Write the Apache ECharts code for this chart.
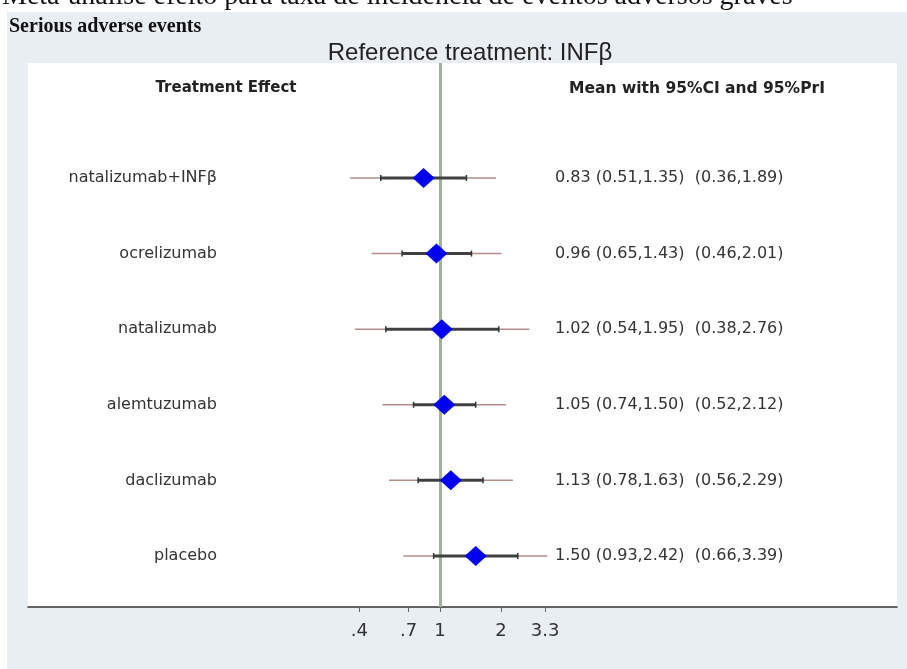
<!DOCTYPE html>
<html>
  <head>
    <meta charset="utf-8" />
    <title>Serious adverse events</title>
    <script src="https://cdn.jsdelivr.net/npm/echarts@6/dist/echarts.min.js"></script>
  </head>
  <body style="margin:0">
    <div id="main" style="width:907px;height:669px"></div>
    <script type="text/javascript">
      // rate ratios vs INFβ (rows top to bottom)
      var treatments = ['natalizumab+INFβ', 'ocrelizumab', 'natalizumab', 'alemtuzumab', 'daclizumab', 'placebo'];
      var mean    = [0.83, 0.96, 1.02, 1.05, 1.13, 1.50];
      var ciLow   = [0.51, 0.65, 0.54, 0.74, 0.78, 0.93];
      var ciHigh  = [1.35, 1.43, 1.95, 1.50, 1.63, 2.42];
      var priLow  = [0.36, 0.46, 0.38, 0.52, 0.56, 0.66];
      var priHigh = [1.89, 2.01, 2.76, 2.12, 2.29, 3.39];
      var tickValues = [0.4, 0.7, 1, 2, 3.3];
      var tickLabels = ['.4', '.7', '1', '2', '3.3'];

      var ln = Math.log;
      var rows = treatments.map(function (t, i) { return i; });
      var tickLn = tickValues.map(ln);

      var intervalData = rows.map(function (i) {
        return [ln(priLow[i]), ln(priHigh[i]), ln(ciLow[i]), ln(ciHigh[i]), i];
      });
      var meanData = rows.map(function (i) { return [ln(mean[i]), i]; });

      function rowText(i) {
        return mean[i].toFixed(2) + ' (' + ciLow[i].toFixed(2) + ',' + ciHigh[i].toFixed(2) + ')  (' +
          priLow[i].toFixed(2) + ',' + priHigh[i].toFixed(2) + ')';
      }

      var myChart = echarts.init(document.getElementById('main'));
      var sans = 'DejaVu Sans';
      var yRange = { min: -1.521, max: 5.675 };

      var option = {
        backgroundColor: '#e8eef2',
        animation: false,
        graphic: [
          { type: 'rect', shape: { x: 0, y: 0, width: 907, height: 12 }, style: { fill: '#ffffff' }, z: -1 },
          { type: 'rect', shape: { x: 0, y: 0, width: 7, height: 669 }, style: { fill: '#ffffff' }, z: -1 }
        ],
        title: [
          {
            text: 'Meta-análise efeito para taxa de incidência de eventos adversos graves',
            left: 2, top: -17, padding: 0,
            textStyle: { fontFamily: 'Liberation Serif', fontSize: 28, fontWeight: 'normal', color: '#111' }
          },
          {
            text: 'Serious adverse events',
            left: 9, top: 17, padding: 0,
            textStyle: { fontFamily: 'Liberation Serif', fontSize: 20, fontWeight: 'bold', color: '#111' }
          },
          {
            text: 'Reference treatment: INFβ',
            left: 470, top: 41, padding: 0, textAlign: 'center',
            textStyle: { fontFamily: 'Liberation Sans', fontSize: 24, fontWeight: 'normal', color: '#222' }
          },
          {
            text: 'Treatment Effect',
            left: 226, top: 81, padding: 0, textAlign: 'center',
            textStyle: { fontFamily: sans, fontSize: 15, fontWeight: 'bold', color: '#222' }
          },
          {
            text: 'Mean with 95%CI and 95%PrI',
            left: 697, top: 81, padding: 0, textAlign: 'center',
            textStyle: { fontFamily: sans, fontSize: 15.5, fontWeight: 'bold', color: '#222' }
          }
        ],
        grid: {
          left: 28,
          right: 10,
          top: 63,
          bottom: 62,
          show: true,
          backgroundColor: '#ffffff',
          borderWidth: 0,
          outerBoundsMode: 'none'
        },
        xAxis: {
          type: 'value',
          min: -4.682,
          max: 5.193,
          splitLine: { show: false },
          axisLine: { onZero: false, lineStyle: { color: '#333', width: 1.5 } },
          axisTick: { customValues: tickLn, length: 5, lineStyle: { color: '#666' } },
          axisLabel: {
            customValues: tickLn,
            margin: 15,
            fontFamily: sans,
            fontSize: 18,
            color: '#333',
            formatter: function (v) {
              var k = tickLn.findIndex(function (t) { return Math.abs(t - v) < 1e-6; });
              return k < 0 ? '' : tickLabels[k];
            }
          }
        },
        yAxis: [
          {
            type: 'value',
            inverse: true,
            min: yRange.min,
            max: yRange.max,
            position: 'left',
            offset: -190,
            splitLine: { show: false },
            axisLine: { show: false, onZero: false },
            axisTick: { show: false },
            axisLabel: {
              customValues: rows,
              margin: 1,
              fontFamily: sans,
              fontSize: 16,
              color: '#333',
              formatter: function (v) { return treatments[v]; }
            }
          },
          {
            type: 'value',
            inverse: true,
            min: yRange.min,
            max: yRange.max,
            position: 'right',
            offset: -345,
            splitLine: { show: false },
            axisLine: { show: false, onZero: false },
            axisTick: { show: false },
            axisLabel: {
              customValues: rows,
              margin: 3,
              fontFamily: sans,
              fontSize: 16,
              color: '#333',
              formatter: function (v) { return rowText(v); }
            }
          }
        ],
        series: [
          {
            name: 'intervals',
            type: 'custom',
            z: 2,
            silent: true,
            encode: { x: [0, 1, 2, 3], y: 4 },
            data: intervalData,
            renderItem: function (params, api) {
              var y = api.value(4);
              var p1 = api.coord([api.value(0), y]);
              var p2 = api.coord([api.value(1), y]);
              var c1 = api.coord([api.value(2), y]);
              var c2 = api.coord([api.value(3), y]);
              return {
                type: 'group',
                children: [
                  { type: 'line', shape: { x1: p1[0], y1: p1[1], x2: p2[0], y2: p2[1] },
                    style: { stroke: '#b48c8c', lineWidth: 1.5 } },
                  { type: 'line', shape: { x1: c1[0], y1: c1[1], x2: c2[0], y2: c2[1] },
                    style: { stroke: '#404040', lineWidth: 3 } },
                  { type: 'line', shape: { x1: c1[0], y1: c1[1] - 3, x2: c1[0], y2: c1[1] + 3 },
                    style: { stroke: '#333', lineWidth: 1.5 } },
                  { type: 'line', shape: { x1: c2[0], y1: c2[1] - 3, x2: c2[0], y2: c2[1] + 3 },
                    style: { stroke: '#333', lineWidth: 1.5 } }
                ]
              };
            },
            markLine: {
              z: 1,
              silent: true,
              symbol: ['none', 'none'],
              label: { show: false },
              lineStyle: { color: '#a2b09c', width: 3, type: 'solid' },
              data: [{ xAxis: 0 }]
            }
          },
          {
            name: 'mean',
            type: 'scatter',
            z: 10,
            symbol: 'diamond',
            symbolSize: [22, 20],
            itemStyle: { color: '#0000ee', opacity: 1 },
            data: meanData
          }
        ]
      };

      myChart.setOption(option);
    </script>
  </body>
</html>
